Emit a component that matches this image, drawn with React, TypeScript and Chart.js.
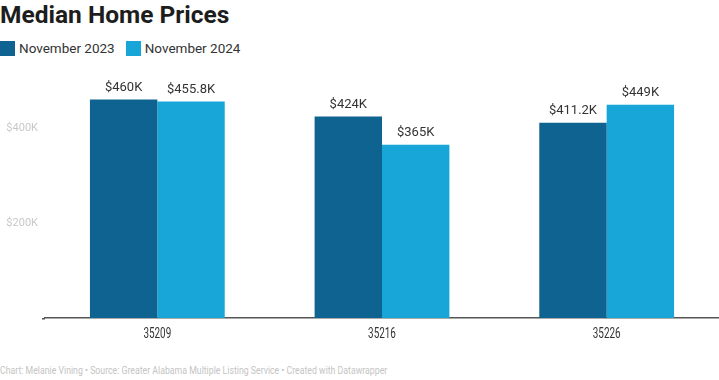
import React, { useEffect, useRef } from "react";
import { Chart, registerables } from "chart.js";

Chart.register(...registerables);

const categories = ["35209", "35216", "35226"];
const nov2023 = [460000, 424000, 411200];
const nov2024 = [455800, 365000, 449000];
const labels2023 = ["$460K", "$424K", "$411.2K"];
const labels2024 = ["$455.8K", "$365K", "$449K"];
const yTickValues = [200000, 400000];
const yTickLabels = ["$200K", "$400K"];

const DARK = "#0f6390";
const LIGHT = "#17a6d7";
const FONT = "Roboto, 'Noto Sans', sans-serif";

export default function App() {
  const ref = useRef<HTMLCanvasElement | null>(null);

  useEffect(() => {
    document.body.style.margin = "0";
    const labelPlugin = {
      id: "barLabels",
      afterDatasetsDraw(chart: any) {
        const ctx = chart.ctx;
        ctx.save();
        ctx.font = `13px ${FONT}`;
        ctx.fillStyle = "#333333";
        ctx.textAlign = "center";
        ctx.textBaseline = "bottom";
        const texts = [labels2023, labels2024];
        chart.data.datasets.forEach((_: any, di: number) => {
          const meta = chart.getDatasetMeta(di);
          meta.data.forEach((bar: any, i: number) => {
            ctx.fillText(texts[di][i], bar.x, bar.y - 5);
          });
        });
        // category labels (condensed)
        const xs = chart.scales.x;
        ctx.font = `15px ${FONT}`;
        ctx.fillStyle = "#333333";
        ctx.textBaseline = "middle";
        categories.forEach((c, i) => {
          const x = xs.getPixelForValue(i);
          ctx.save();
          ctx.translate(x, chart.chartArea.bottom + 16);
          ctx.scale(0.66, 1);
          ctx.fillText(c, 0, 0);
          ctx.restore();
        });
        // y tick labels
        const ys = chart.scales.y;
        ctx.font = `11px ${FONT}`;
        ctx.fillStyle = "#c8c8c8";
        ctx.textAlign = "right";
        yTickValues.forEach((v, i) => {
          ctx.fillText(yTickLabels[i], 38, ys.getPixelForValue(v));
        });
        // extend baseline slightly to the left like the reference
        ctx.strokeStyle = "#555555";
        ctx.lineWidth = 1.5;
        ctx.beginPath();
        ctx.moveTo(42, chart.chartArea.bottom + 0.75);
        ctx.lineTo(chart.chartArea.left, chart.chartArea.bottom + 0.75);
        ctx.stroke();
        ctx.restore();
      },
    };
    const chart = new Chart(ref.current!, {
      type: "bar",
      data: {
        labels: categories,
        datasets: [
          { label: "November 2023", data: nov2023, backgroundColor: DARK },
          { label: "November 2024", data: nov2024, backgroundColor: LIGHT },
        ],
      },
      options: {
        animation: false,
        responsive: false,
        maintainAspectRatio: false,
        layout: { padding: { top: 10.5, right: 0, left: 0, bottom: 0 } },
        datasets: {
          bar: { categoryPercentage: 0.6, barPercentage: 1.0, borderWidth: 0 },
        },
        plugins: {
          legend: { display: false },
          tooltip: { enabled: false },
          title: { display: false },
        },
        scales: {
          x: {
            grid: { display: false, drawTicks: false },
            border: { display: true, color: "#555555", width: 1.5 },
            ticks: { display: false },
            afterFit: (s: any) => {
              s.height = 32;
            },
          },
          y: {
            min: 0,
            max: 500000,
            grid: { display: false, drawTicks: false },
            border: { display: false },
            ticks: { display: false },
            afterFit: (s: any) => {
              s.width = 45;
            },
          },
        },
      },
      plugins: [labelPlugin],
    });
    return () => chart.destroy();
  }, []);

  return (
    <div style={{ position: "relative", width: 719, height: 380, background: "#fff", fontFamily: FONT, overflow: "hidden" }}>
      <div style={{ position: "absolute", left: 0, top: 0, fontSize: 24.5, fontWeight: 700, color: "#1d1d1d", lineHeight: "30px", whiteSpace: "nowrap" }}>
        Median Home Prices
      </div>
      <div style={{ position: "absolute", left: 0, top: 39, display: "flex", alignItems: "center", fontSize: 13.5, color: "#333", lineHeight: "18px", whiteSpace: "nowrap" }}>
        <span style={{ display: "inline-block", width: 15, height: 15, background: DARK, marginRight: 4 }} />
        <span style={{ marginRight: 11 }}>November 2023</span>
        <span style={{ display: "inline-block", width: 15, height: 15, background: LIGHT, marginRight: 4 }} />
        <span>November 2024</span>
      </div>
      <canvas ref={ref} width={719} height={280} style={{ position: "absolute", left: 0, top: 70, width: 719, height: 280 }} />
      <div style={{ position: "absolute", left: 0, top: 363, fontSize: 11.5, color: "#c4c4c4", lineHeight: "14px", whiteSpace: "nowrap", transform: "scaleX(0.76)", transformOrigin: "0 0" }}>
        Chart: Melanie Vining • Source: Greater Alabama Multiple Listing Service • Created with Datawrapper
      </div>
    </div>
  );
}
